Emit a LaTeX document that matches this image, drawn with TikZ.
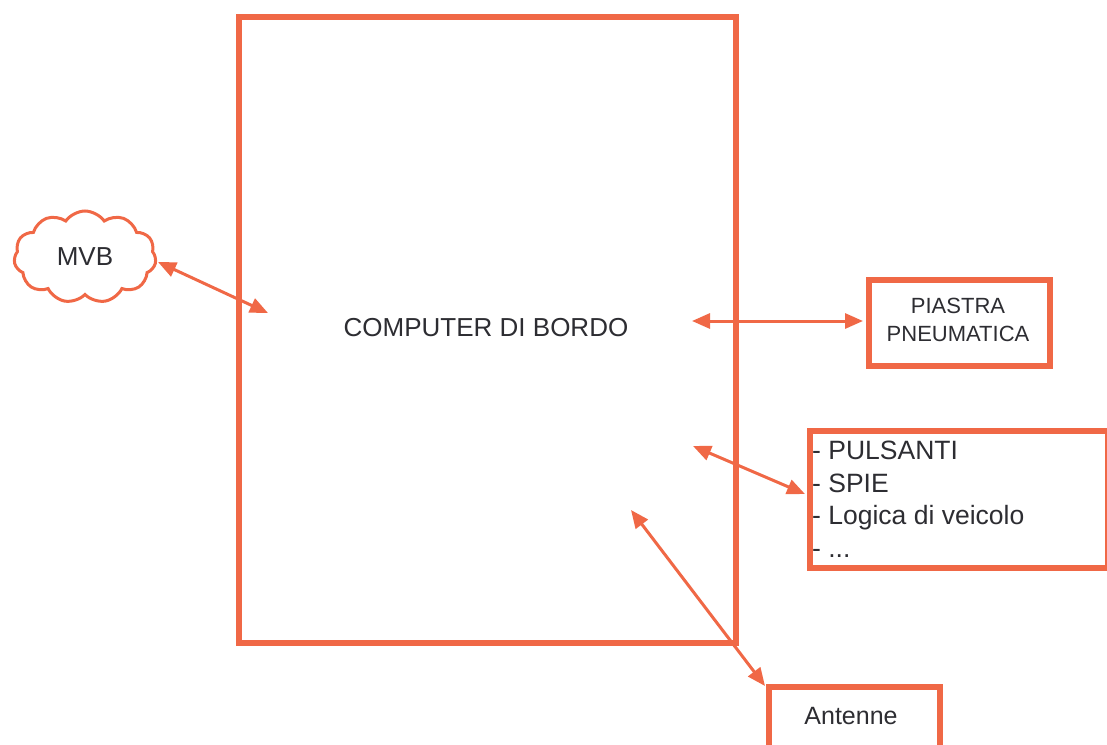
\documentclass[tikz,border=0pt]{standalone}
\usepackage{fontspec}
\setmainfont{Liberation Sans}
\usetikzlibrary{shapes.symbols,arrows.meta}
\definecolor{edge}{RGB}{240,104,70}
\definecolor{txt}{RGB}{45,45,50}
\tikzset{
  frame/.style={draw=edge,line width=6pt,fill=white,text=txt},
  link/.style={draw=edge,line width=3pt,{Triangle[length=18pt,width=15pt]}-{Triangle[length=18pt,width=15pt]}},
}
\begin{document}
\begin{tikzpicture}[x=1pt,y=-1pt]
\useasboundingbox (0,0) rectangle (1107,744);
% main box
\node[frame,minimum width=497pt,minimum height=626pt,anchor=north west] (cpu) at (236,14) {};
\node[text=txt,font=\fontsize{26}{30}\selectfont] (cpul) at (486,328) {COMPUTER DI BORDO};
% cloud
\node[cloud,cloud puffs=11,cloud puff arc=110,aspect=1.6,draw=edge,line width=3pt,fill=white,text=txt,minimum width=142pt,minimum height=92pt,font=\fontsize{26}{30}\selectfont] (mvb) at (85,257) {MVB};
% piastra
\node[frame,minimum width=181pt,minimum height=86pt,anchor=north west] (pp) at (866,277) {};
\node[text=txt,align=center,font=\fontsize{22}{28}\selectfont] (ppl) at (958,320) {PIASTRA\\PNEUMATICA};
% list
\node[frame,minimum width=298pt,minimum height=137pt,anchor=north west] (list) at (807,428) {};
\node[text=txt,align=left,anchor=north west,font=\fontsize{26.5}{32.5}\selectfont,inner sep=0pt] (listl) at (812,441) {- PULSANTI\\- SPIE\\- Logica di veicolo\\- ...};
% antenne
\node[frame,minimum width=171pt,minimum height=70pt,anchor=north west] (ant) at (766,684) {};
\node[text=txt,font=\fontsize{25}{30}\selectfont] (antl) at (851,716) {Antenne};
% connector endpoints
\coordinate (a1) at (158,262);
\coordinate (a2) at (268,313);
\coordinate (b1) at (692,321);
\coordinate (b2) at (863,321);
\coordinate (c1) at (693,446);
\coordinate (c2) at (805,494);
\coordinate (d1) at (631,510);
\coordinate (d2) at (765,686);
\draw[link] (a1) -- (a2);
\draw[link] (b1) -- (b2);
\draw[link] (c1) -- (c2);
\draw[link] (d1) -- (d2);
\end{tikzpicture}
\end{document}
